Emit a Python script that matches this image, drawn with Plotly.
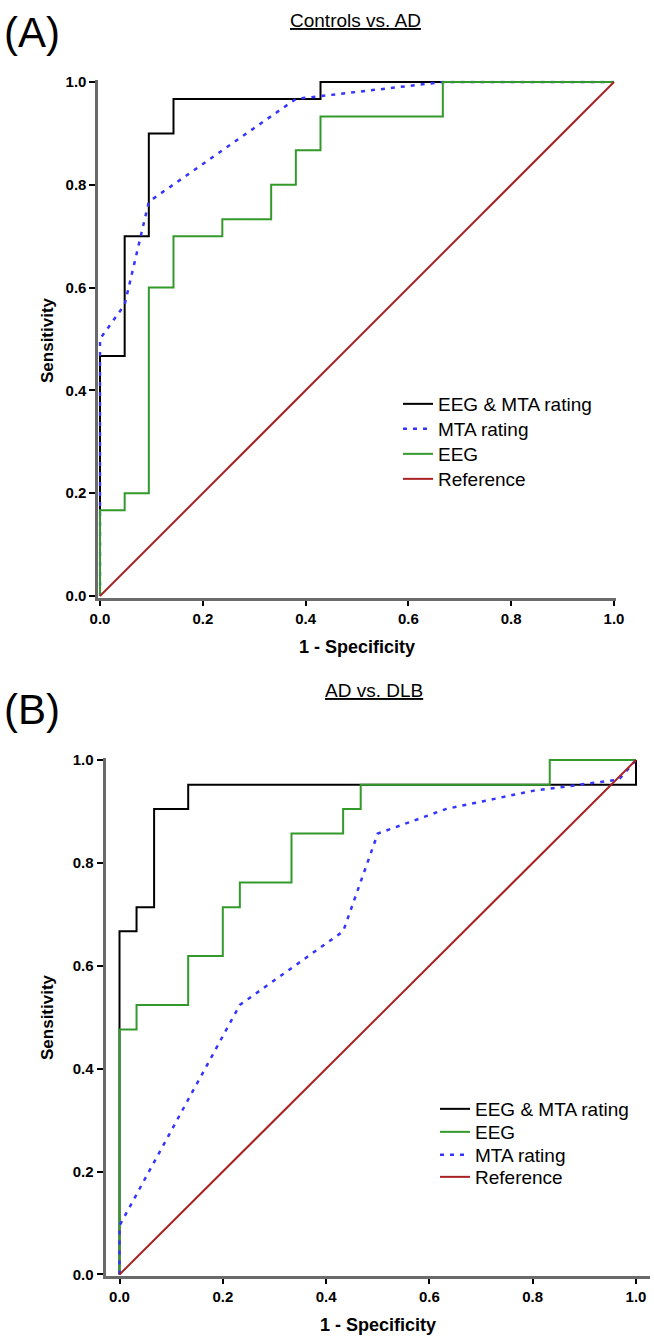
import plotly.graph_objects as go

W, H = 654, 1340

# ---------------- data ----------------
tick_vals = [0.0, 0.2, 0.4, 0.6, 0.8, 1.0]
tick_text = ["0.0", "0.2", "0.4", "0.6", "0.8", "1.0"]

# Panel A: Controls vs. AD
a_combo_x = [0, 0, 0.048, 0.095, 0.143, 0.429, 1.0]
a_combo_y = [0, 0.467, 0.700, 0.900, 0.967, 1.000, 1.0]
a_mta_x = [0, 0, 0.048, 0.095, 0.381, 0.667, 1.0]
a_mta_y = [0, 0.500, 0.567, 0.767, 0.967, 1.000, 1.0]
a_eeg_x = [0, 0, 0.048, 0.095, 0.143, 0.238, 0.333, 0.381, 0.429, 0.667, 1.0]
a_eeg_y = [0, 0.167, 0.200, 0.600, 0.700, 0.733, 0.800, 0.867, 0.933, 1.000, 1.0]
ref_x = [0, 1]
ref_y = [0, 1]

# Panel B: AD vs. DLB
b_combo_x = [0, 0, 0.033, 0.067, 0.133, 1.0, 1.0]
b_combo_y = [0, 0.667, 0.714, 0.905, 0.952, 0.952, 1.0]
b_eeg_x = [0, 0, 0.033, 0.133, 0.200, 0.233, 0.333, 0.433, 0.467, 0.833, 1.0]
b_eeg_y = [0, 0.476, 0.524, 0.619, 0.714, 0.762, 0.857, 0.905, 0.952, 1.000, 1.0]
b_mta_x = [0, 0, 0.233, 0.433, 0.500, 0.633, 0.800, 0.967, 1.0]
b_mta_y = [0, 0.095, 0.524, 0.667, 0.857, 0.905, 0.940, 0.962, 1.0]

# ---------------- styles ----------------
C_BLACK = "#000000"
C_BLUE = "#3535ff"
C_GREEN = "#33992a"
C_RED = "#a82222"
LW = 2
BLUE_DASH = "4px,6px"
FONT = "Liberation Sans, Arial, sans-serif"


def px_x(p):
    return p / W


def px_y(p):
    return 1 - p / H


fig = go.Figure()

# Panel A traces (each with its own legend box so row spacing can match)
fig.add_trace(go.Scatter(x=a_combo_x, y=a_combo_y, mode="lines", line=dict(color=C_BLACK, width=LW, shape="hv"),
                         name="EEG & MTA rating", xaxis="x", yaxis="y", legend="legend"))
fig.add_trace(go.Scatter(x=a_mta_x, y=a_mta_y, mode="lines", line=dict(color=C_BLUE, width=2.5, dash=BLUE_DASH),
                         name="MTA rating", xaxis="x", yaxis="y", legend="legend2"))
fig.add_trace(go.Scatter(x=a_eeg_x, y=a_eeg_y, mode="lines", line=dict(color=C_GREEN, width=LW, shape="hv"),
                         name="EEG", xaxis="x", yaxis="y", legend="legend3"))
fig.add_trace(go.Scatter(x=ref_x, y=ref_y, mode="lines", line=dict(color=C_RED, width=LW),
                         name="Reference", xaxis="x", yaxis="y", legend="legend4"))

# Panel B traces
fig.add_trace(go.Scatter(x=b_combo_x, y=b_combo_y, mode="lines", line=dict(color=C_BLACK, width=LW, shape="hv"),
                         name="EEG & MTA rating", xaxis="x2", yaxis="y2", legend="legend5"))
fig.add_trace(go.Scatter(x=b_eeg_x, y=b_eeg_y, mode="lines", line=dict(color=C_GREEN, width=LW, shape="hv"),
                         name="EEG", xaxis="x2", yaxis="y2", legend="legend6"))
fig.add_trace(go.Scatter(x=b_mta_x, y=b_mta_y, mode="lines", line=dict(color=C_BLUE, width=2.5, dash=BLUE_DASH),
                         name="MTA rating", xaxis="x2", yaxis="y2", legend="legend7"))
fig.add_trace(go.Scatter(x=ref_x, y=ref_y, mode="lines", line=dict(color=C_RED, width=LW),
                         name="Reference", xaxis="x2", yaxis="y2", legend="legend8"))

axis_common = dict(
    showgrid=False, zeroline=False, showline=True, linecolor="#6a6a6a", linewidth=3,
    ticks="outside", ticklen=6, tickwidth=2, tickcolor="#000000",
    tickvals=tick_vals, ticktext=tick_text,
    tickfont=dict(family=FONT, size=15, color="#000000", weight="bold"),
    fixedrange=True, automargin=False,
)

# Panel A geometry (pixels): x 0->100, 1->614 ; y 0->596, 1->82
ax_pad = 0.003
fig.update_layout(
    xaxis=dict(axis_common, range=[-ax_pad, 1 + ax_pad], domain=[px_x(100 - 514 * ax_pad), px_x(614 + 514 * ax_pad)],
               anchor="y", ticklen=5),
    yaxis=dict(axis_common, range=[-ax_pad, 1 + ax_pad], domain=[px_y(596 + 514 * ax_pad), px_y(82 - 514 * ax_pad)],
               anchor="x"),
    # Panel B geometry: x 0->119.5, 1->636 ; y 0->1274.5, 1->760
    xaxis2=dict(axis_common, range=[-0.027, 1.027],
                domain=[px_x(119.5 - 516.5 * 0.027), px_x(636 + 516.5 * 0.027)], anchor="y2", ticklen=5),
    yaxis2=dict(axis_common, range=[-ax_pad, 1 + ax_pad],
                domain=[px_y(1274.5 + 514.5 * ax_pad), px_y(760 - 514.5 * ax_pad)], anchor="x2"),
)

legend_common = dict(
    font=dict(family=FONT, size=19, color="#000000"),
    bgcolor="rgba(0,0,0,0)", borderwidth=0, xanchor="left", yanchor="middle",
    itemwidth=30,
)
rows_a = [404, 429, 454, 479]
rows_b = [1109, 1132, 1155, 1177]
legend_layout = {}
names = ["legend", "legend2", "legend3", "legend4", "legend5", "legend6", "legend7", "legend8"]
for i, r in enumerate(rows_a):
    legend_layout[names[i]] = dict(legend_common, x=px_x(398), y=px_y(r))
for i, r in enumerate(rows_b):
    legend_layout[names[4 + i]] = dict(legend_common, x=px_x(435), y=px_y(r))
fig.update_layout(**legend_layout)

ann = []
ann.append(dict(text="(A)", x=px_x(32), y=px_y(33), xref="paper", yref="paper", showarrow=False,
                font=dict(family=FONT, size=42, color="#000"), xanchor="center", yanchor="middle"))
ann.append(dict(text="(B)", x=px_x(32), y=px_y(709), xref="paper", yref="paper", showarrow=False,
                font=dict(family=FONT, size=42, color="#000"), xanchor="center", yanchor="middle"))
ann.append(dict(text="<u>Controls vs. AD</u>", x=px_x(355), y=px_y(20), xref="paper", yref="paper",
                showarrow=False, font=dict(family=FONT, size=19, color="#000"), xanchor="center", yanchor="middle"))
ann.append(dict(text="<u>AD vs. DLB</u>", x=px_x(374), y=px_y(690), xref="paper", yref="paper",
                showarrow=False, font=dict(family=FONT, size=19, color="#000"), xanchor="center", yanchor="middle"))
for yc in (340, 1017):
    ann.append(dict(text="<b>Sensitivity</b>", x=px_x(47), y=px_y(yc), xref="paper", yref="paper",
                    showarrow=False, textangle=-90, font=dict(family=FONT, size=17, color="#000"),
                    xanchor="center", yanchor="middle"))
ann.append(dict(text="<b>1 - Specificity</b>", x=px_x(357), y=px_y(647), xref="paper", yref="paper",
                showarrow=False, font=dict(family=FONT, size=18, color="#000"), xanchor="center", yanchor="middle"))
ann.append(dict(text="<b>1 - Specificity</b>", x=px_x(378), y=px_y(1325), xref="paper", yref="paper",
                showarrow=False, font=dict(family=FONT, size=18, color="#000"), xanchor="center", yanchor="middle"))

fig.update_layout(
    width=W, height=H, margin=dict(l=0, r=0, t=0, b=0, autoexpand=False),
    paper_bgcolor="white", plot_bgcolor="white",
    annotations=ann, showlegend=True,
    font=dict(family=FONT),
)

fig.write_html(
    "out.html",
    config={"displayModeBar": False},
    post_script="document.body.style.margin='0';document.body.style.padding='0';document.body.style.overflow='hidden';",
)
